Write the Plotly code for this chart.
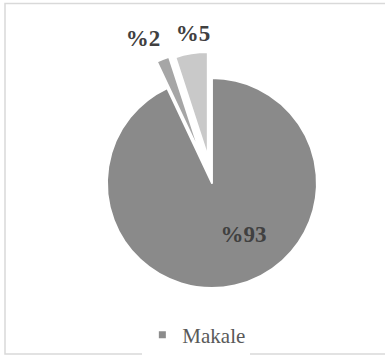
import plotly.graph_objects as go

# Data
labels = ["A", "B", "C"]
values = [93, 2, 5]
texts = ["%" + str(v) for v in values]
colors = ["#8a8a8a", "#a6a6a6", "#c9c9c9"]
pulls = [0, 0.27, 0.25]
legend_name = "Makale"

main_dom = dict(x=[0.204, 0.897], y=[0.1087, 0.860])
font = dict(family="Liberation Serif", size=23, color="#404040", weight="bold")
clear = ["rgba(0,0,0,0)"] * 3

fig = go.Figure()
# visible pie
fig.add_trace(go.Pie(
    labels=labels, values=values, textinfo="none",
    marker=dict(colors=colors, line=dict(color="white", width=2)),
    pull=pulls, sort=False, direction="clockwise", rotation=0,
    showlegend=False, hoverinfo="none", domain=main_dom,
))

# transparent label-carrier pies (one per label so labels are not scooted apart)
def label_pie(positions, dom, pull):
    return go.Pie(
        labels=labels, values=values, text=texts, textinfo="text",
        textposition=positions, insidetextorientation="horizontal",
        textfont=font,
        marker=dict(colors=clear, line=dict(width=0)),
        pull=pull, sort=False, direction="clockwise", rotation=0,
        showlegend=False, hoverinfo="none", domain=dom,
    )

fig.add_trace(label_pie(["inside", "none", "none"],
                        dict(x=[0.256, 0.949], y=[0.1087, 0.860]), pulls))
fig.add_trace(label_pie(["none", "none", "outside"],
                        dict(x=[0.3322, 0.8777], y=[0.2834, 0.8749]), 0))
fig.add_trace(label_pie(["none", "outside", "none"],
                        dict(x=[0.2600, 0.8055], y=[0.2904, 0.8820]), 0))

fig.add_trace(go.Scatter(
    x=[None], y=[None], mode="markers",
    marker=dict(symbol="square", size=7, color="#8c8c8c"),
    name=legend_name, showlegend=True, hoverinfo="none",
))

fig.update_layout(
    width=385, height=355,
    margin=dict(l=0, r=0, t=0, b=0, autoexpand=False),
    paper_bgcolor="white", plot_bgcolor="white",
    xaxis=dict(visible=False), yaxis=dict(visible=False),
    legend=dict(orientation="h", x=0.51, xanchor="center", y=0.056, yanchor="middle",
                font=dict(family="Liberation Serif", size=21, color="#595959"),
                itemwidth=30),
    shapes=[dict(type="rect", xref="paper", yref="paper", x0=5/385, x1=1.05,
                 y0=1/355, y1=351.5/355, line=dict(color="#d9d9d9", width=1.5))],
)
fig.write_html("out.html")
